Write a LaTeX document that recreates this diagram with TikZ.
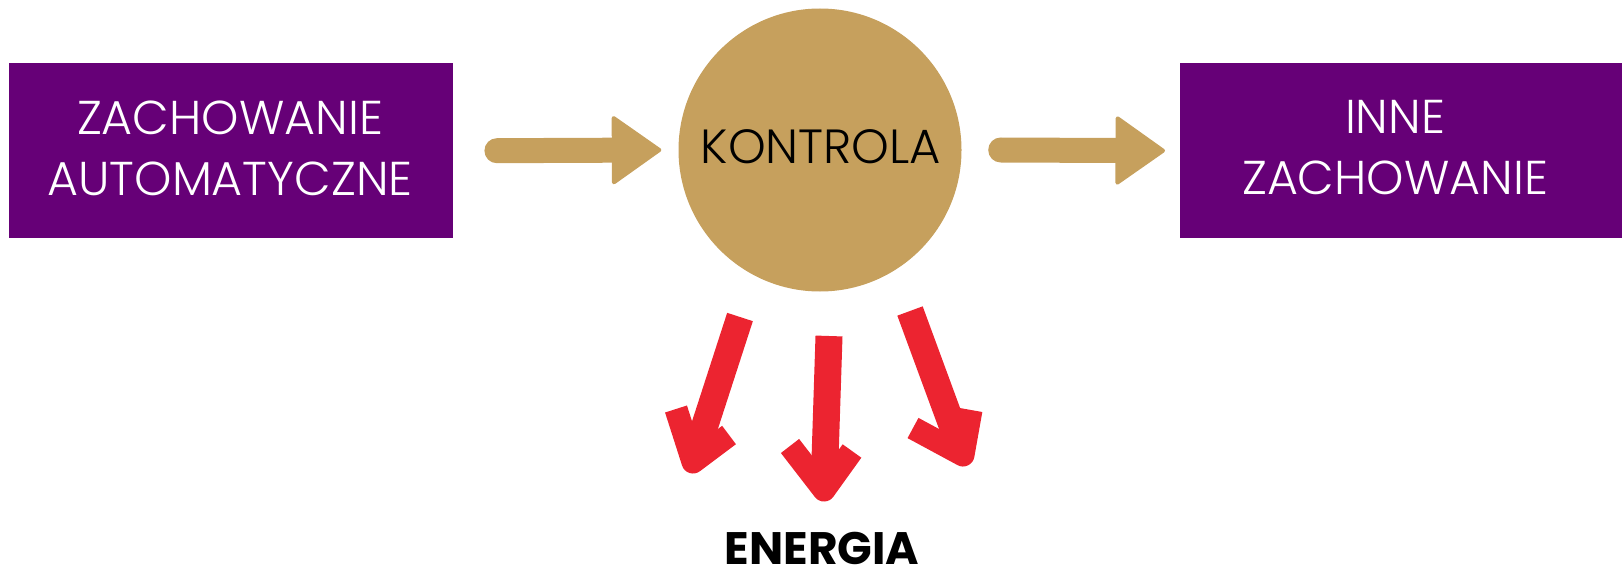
\documentclass[tikz,border=0pt]{standalone}
\usepackage{fontspec}
\setmainfont{Poppins Light}
\newfontfamily\boldfont{Poppins Bold}
\usetikzlibrary{arrows.meta,calc}
\definecolor{boxpurple}{HTML}{660077}
\definecolor{goldc}{HTML}{C6A05D}
\definecolor{redc}{HTML}{EC2430}
\begin{document}
\begin{tikzpicture}[x=1pt,y=-1pt,
  purplebox/.style={fill=boxpurple, draw=none, inner sep=0pt, anchor=north west, minimum height=175pt},
  boxtext/.style={text=white, align=center, inner sep=0pt, font=\fontsize{47.5}{61}\selectfont},
  goldcircle/.style={circle, fill=goldc, draw=none, minimum size=283pt, inner sep=0pt},
  goldarrow/.style={draw=goldc, line width=25pt, line cap=round,
     -{Triangle[width=71pt,length=51pt,line width=4pt,round]}},
  redshaft/.style={draw=redc, line width=27pt, line cap=butt},
  redhead/.style={draw=redc, line width=23pt, line join=round, line cap=butt},
  redfill/.style={fill=redc, draw=none},
]
\useasboundingbox (0,0) rectangle (1622,572);
\node[purplebox, minimum width=444pt] (zb) at (9,63) {};
\node[purplebox, minimum width=442pt] (zi) at (1180,63) {};
\node[goldcircle] (ko) at (820,150) {};
\node[boxtext] (zbt) at (230,148) {ZACHOWANIE\\AUTOMATYCZNE};
\node[boxtext] (zit) at (1395,148) {INNE\\ZACHOWANIE};
\node[anchor=base, inner sep=0pt, font=\fontsize{48}{58}\selectfont] (kot) at (821,164) {KONTROLA};
\node[anchor=base, inner sep=0pt, font=\boldfont\fontsize{45.5}{54}\selectfont] (en) at (822,564) {ENERGIA};
\draw[goldarrow] ([xshift=43.5pt]zb.east) -- ([xshift=-17pt]ko.west);
\draw[goldarrow] ([xshift=39pt]ko.east) -- ([xshift=-15pt]zi.west);
% red hand-drawn arrows
\coordinate (t1) at (740,317); \coordinate (p1) at (693,462);
\coordinate (l1) at (676,409); \coordinate (r1) at (729,435);
\coordinate (t2) at (829,336); \coordinate (p2) at (824,490);
\coordinate (l2) at (790,446); \coordinate (r2) at (852,451);
\coordinate (t3) at (910,311); \coordinate (p3) at (963,455);
\coordinate (l3) at (913,428); \coordinate (r3) at (971,410);
\foreach \i in {1,2,3}{
  \draw[redshaft] (t\i) -- ($(t\i)!0.9!(p\i)$);
  \draw[redhead] (l\i) -- (p\i) -- (r\i);
  \fill[redfill] ($(l\i)!0.45!(p\i)$) -- (p\i) -- ($(r\i)!0.45!(p\i)$) -- cycle;
}
\end{tikzpicture}
\end{document}
